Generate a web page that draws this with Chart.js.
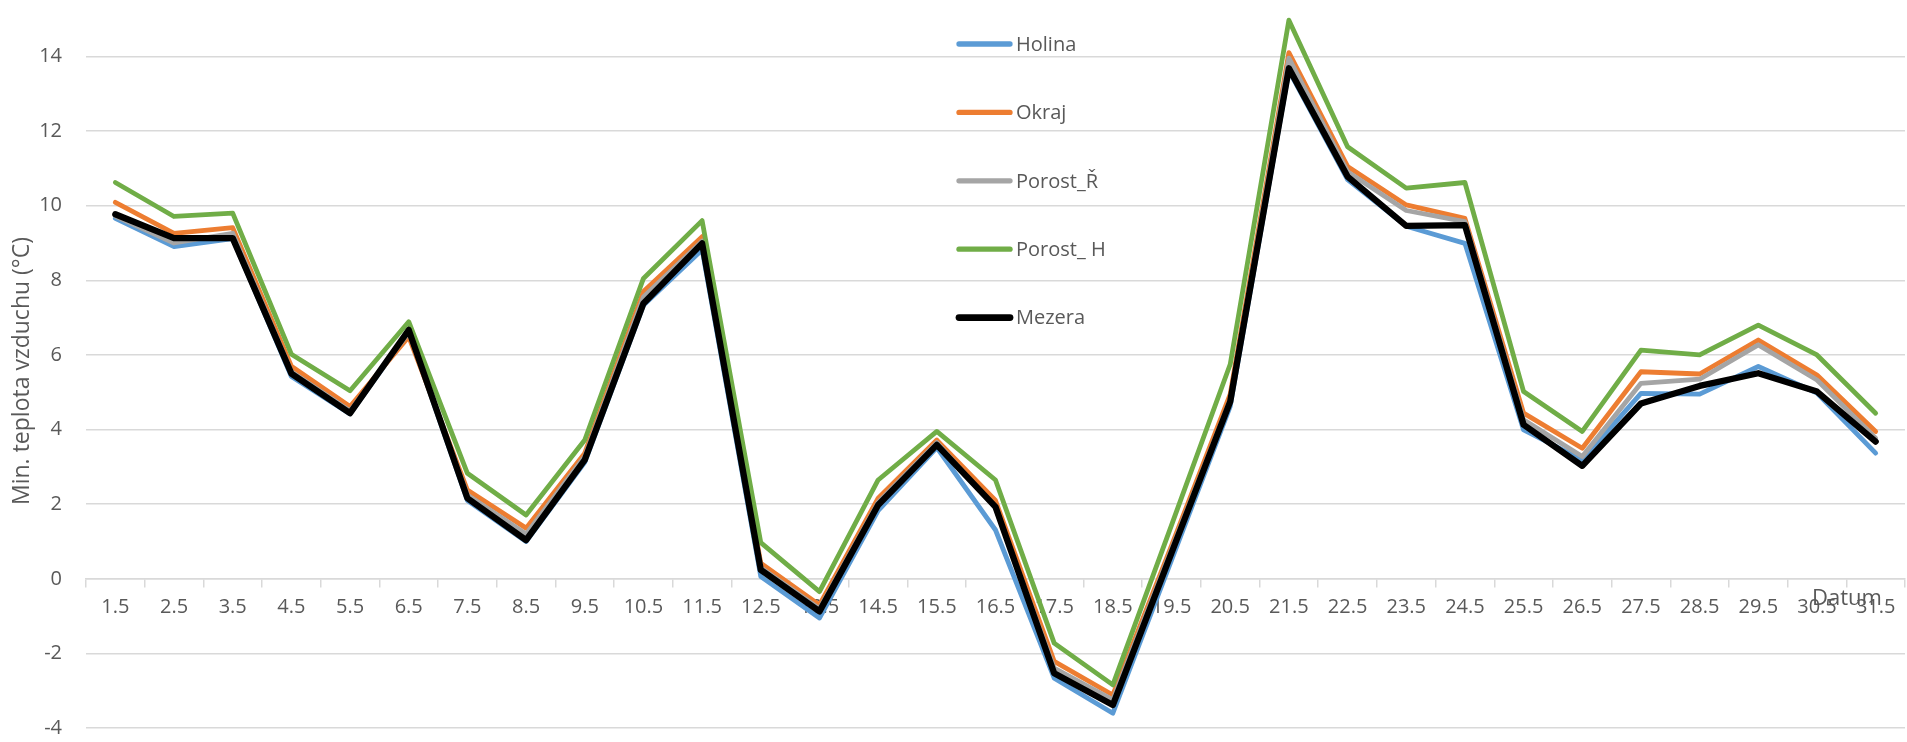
<!DOCTYPE html>
<html lang="cs">
<head>
<meta charset="utf-8">
<title>Min. teplota vzduchu</title>
<script src="https://cdn.jsdelivr.net/npm/chart.js@4.4.1/dist/chart.umd.min.js"></script>
<style>
  html, body { margin: 0; padding: 0; background: #ffffff; }
  #wrap { width: 1907px; height: 742px; position: relative; }
</style>
</head>
<body>
<div id="wrap"><canvas id="chart" width="1907" height="742"></canvas></div>
<script>
// Dates (day.month) in May
const dates = ['1.5','2.5','3.5','4.5','5.5','6.5','7.5','8.5','9.5','10.5','11.5','12.5','13.5','14.5','15.5','16.5',
  '17.5','18.5','19.5','20.5','21.5','22.5','23.5','24.5','25.5','26.5','27.5','28.5','29.5','30.5','31.5'];

// Daily minimum air temperature (°C) per site
const holina  = [9.66, 8.90, 9.12, 5.42, 4.42, 6.62, 2.10, 1.00, 3.12, 7.33, 8.82, 0.06, -1.05, 1.83, 3.52, 1.31,
  -2.66, -3.60, 0.50, 4.62, 13.62, 10.70, 9.45, 8.99, 3.99, 3.19, 4.97, 4.95, 5.69, 4.98, 3.37];
const okraj   = [10.09, 9.26, 9.41, 5.70, 4.62, 6.49, 2.38, 1.36, 3.37, 7.70, 9.17, 0.42, -0.70, 2.16, 3.72, 2.10,
  -2.21, -3.11, 0.89, 4.95, 14.10, 11.05, 10.02, 9.66, 4.44, 3.50, 5.55, 5.49, 6.40, 5.46, 3.95];
const porostR = [9.72, 9.00, 9.26, 5.55, 4.50, 6.60, 2.25, 1.20, 3.28, 7.55, 9.05, 0.30, -0.80, 2.05, 3.65, 1.90,
  -2.39, -3.24, 0.80, 4.80, 13.95, 10.91, 9.87, 9.57, 4.26, 3.28, 5.24, 5.35, 6.27, 5.33, 3.77];
const porostH = [10.62, 9.71, 9.80, 6.02, 5.04, 6.89, 2.83, 1.71, 3.72, 8.05, 9.60, 0.97, -0.34, 2.65, 3.95, 2.65,
  -1.72, -2.84, 1.44, 5.75, 14.97, 11.58, 10.47, 10.62, 5.02, 3.95, 6.13, 6.00, 6.80, 6.00, 4.44];
const mezera  = [9.77, 9.13, 9.13, 5.50, 4.44, 6.67, 2.16, 1.04, 3.19, 7.38, 8.99, 0.24, -0.87, 1.98, 3.59, 1.93,
  -2.53, -3.38, 0.70, 4.75, 13.68, 10.78, 9.46, 9.48, 4.13, 3.03, 4.70, 5.17, 5.51, 5.02, 3.68];

// Value axis tick labels
const yTicks = [-4, -2, 0, 2, 4, 6, 8, 10, 12, 14];

const TEXT = '#595959';
const GRID = '#d9d9d9';
const FONT = "'Open Sans', 'Liberation Sans', sans-serif";

// Vertical legend drawn inside the plot, next to the peak
const insideLegend = {
  id: 'insideLegend',
  afterDatasetsDraw(chart) {
    const ctx = chart.ctx;
    const x0 = 959, x1 = 1010, tx = 1016, y0 = 44, dy = 68.4;
    ctx.save();
    ctx.font = '20px ' + FONT;
    ctx.textBaseline = 'middle';
    ctx.textAlign = 'left';
    chart.data.datasets.forEach((ds, i) => {
      const y = y0 + i * dy;
      ctx.beginPath();
      ctx.moveTo(x0, y);
      ctx.lineTo(x1, y);
      ctx.lineWidth = ds.legendWidth;
      ctx.lineCap = 'round';
      ctx.strokeStyle = ds.borderColor;
      ctx.stroke();
      ctx.fillStyle = TEXT;
      ctx.fillText(ds.label, tx, y + 1);
    });
    ctx.restore();
  }
};

// Category axis title placed at the right end, just above the tick labels
const axisTitle = {
  id: 'axisTitle',
  afterDraw(chart) {
    const ctx = chart.ctx;
    const xs = chart.scales.x, ys = chart.scales.y;
    ctx.save();
    ctx.font = '22px ' + FONT;
    ctx.fillStyle = TEXT;
    ctx.textAlign = 'center';
    ctx.textBaseline = 'alphabetic';
    ctx.fillText('Datum', xs.right - 58, ys.getPixelForValue(0) + 26);
    ctx.restore();
  }
};

const mk = (label, data, color, width, order) => ({
  label, data,
  borderColor: color,
  backgroundColor: color,
  borderWidth: width,
  legendWidth: width + 0.5,
  pointRadius: 0,
  pointHoverRadius: 0,
  tension: 0,
  borderJoinStyle: 'round',
  borderCapStyle: 'round',
  fill: false,
  order
});

new Chart(document.getElementById('chart'), {
  type: 'line',
  data: {
    labels: dates,
    datasets: [
      mk('Holina', holina, '#5b9bd5', 4.8, 5),
      mk('Okraj', okraj, '#ed7d31', 4.8, 4),
      mk('Porost_Ř', porostR, '#a5a5a5', 4.8, 3),
      mk('Porost_ H', porostH, '#70ad47', 4.8, 2),
      mk('Mezera', mezera, '#000000', 6.3, 1)
    ]
  },
  options: {
    responsive: false,
    animation: false,
    events: [],
    layout: { padding: { top: 0, right: 2, bottom: 0, left: 0 } },
    plugins: {
      legend: { display: false },
      tooltip: { enabled: false }
    },
    scales: {
      x: {
        type: 'category',
        position: { y: 0 },
        offset: true,
        grid: {
          offset: true,
          drawOnChartArea: false,
          drawTicks: true,
          tickLength: 8,
          color: GRID,
          lineWidth: 1.5
        },
        border: { display: true, color: GRID, width: 1.5 },
        ticks: {
          color: TEXT,
          font: { family: FONT, size: 20 },
          padding: 8,
          maxRotation: 0,
          autoSkip: false
        },
        afterFit(scale) {
          scale.paddingLeft = 0;
          scale.paddingRight = 0;
        }
      },
      y: {
        type: 'linear',
        min: -4.37,
        max: 15.51,
        afterBuildTicks(scale) {
          scale.ticks = yTicks.map(v => ({ value: v }));
        },
        afterFit(scale) {
          scale.width = 86;
          scale.paddingTop = 0;
          scale.paddingBottom = 0;
        },
        grid: { color: GRID, lineWidth: 1.5, drawTicks: false },
        border: { display: false },
        ticks: {
          color: TEXT,
          font: { family: FONT, size: 20 },
          padding: 24
        },
        title: {
          display: true,
          text: 'Min. teplota vzduchu (°C)',
          color: TEXT,
          font: { family: FONT, size: 23 },
          padding: { top: 9, bottom: 0 }
        }
      }
    }
  },
  plugins: [insideLegend, axisTitle]
});
</script>
</body>
</html>
